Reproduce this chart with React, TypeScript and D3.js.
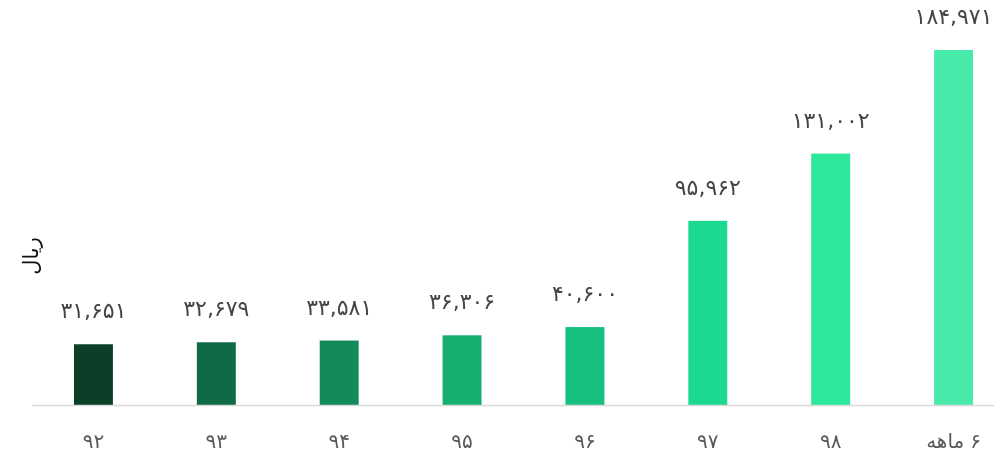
import { useEffect, useRef } from 'react';
import * as d3 from 'd3';

const categories = ['۹۲', '۹۳', '۹۴', '۹۵', '۹۶', '۹۷', '۹۸', '۶ ماهه'];
const values = [31651, 32679, 33581, 36306, 40600, 95962, 131002, 184971];
const colors = ['#0b3f28', '#0e6b45', '#128a5a', '#15b06e', '#17c07e', '#1bd98e', '#2be89b', '#48eaa9'];
const yLabel = 'ریال';

const toFa = (n: number) =>
  d3.format(',')(n).replace(/\d/g, (d) => '۰۱۲۳۴۵۶۷۸۹'[+d]);

export default function App() {
  const ref = useRef<SVGSVGElement>(null);

  useEffect(() => {
    if (!ref.current) return;
    const width = 994;
    const svg = d3.select(ref.current);
    svg.selectAll('*').remove();

    const left = 32;
    const baseline = 405;
    const x = d3.scaleBand().domain(categories).range([32, 1015]).paddingInner(0.683).paddingOuter(0.3415);
    const y = d3.scaleLinear().domain([0, 184971]).range([baseline, 50]);
    const font = '"DejaVu Sans", sans-serif';

    const data = categories.map((c, i) => ({ c, v: values[i], col: colors[i] }));
    const cx = (c: string) => (x(c) ?? 0) + x.bandwidth() / 2;

    svg.selectAll('rect.bar')
      .data(data)
      .join('rect')
      .attr('class', 'bar')
      .attr('x', (d) => x(d.c) ?? 0)
      .attr('width', x.bandwidth())
      .attr('y', (d) => y(d.v))
      .attr('height', (d) => baseline - y(d.v))
      .attr('fill', (d) => d.col);

    svg.append('line')
      .attr('x1', left).attr('x2', width)
      .attr('y1', baseline + 0.5).attr('y2', baseline + 0.5)
      .attr('stroke', '#d9d9d9').attr('stroke-width', 1.5);

    svg.selectAll('text.val')
      .data(data)
      .join('text')
      .attr('class', 'val')
      .attr('x', (d) => cx(d.c))
      .attr('y', (d) => y(d.v) - 26)
      .attr('text-anchor', 'middle')
      .attr('font-family', font)
      .attr('font-size', 22)
      .attr('fill', '#454545')
      .text((d) => toFa(d.v));

    // tick labels: words placed right-to-left one by one so the order is fixed
    data.forEach((d) => {
      const g = svg.append('g');
      const words = d.c.split(' ').reverse();
      const gap = 6;
      let pos = 0;
      words.forEach((w) => {
        const t = g.append('text')
          .attr('y', 448)
          .attr('font-family', font)
          .attr('font-size', 20)
          .attr('fill', '#595959')
          .text(w);
        const len = (t.node() as SVGTextElement).getComputedTextLength();
        t.attr('x', pos);
        pos += len + gap;
      });
      const total = pos - gap;
      g.attr('transform', `translate(${cx(d.c) - total / 2},0)`);
    });

    svg.append('text')
      .attr('transform', 'translate(38,256) rotate(-90)')
      .attr('text-anchor', 'middle')
      .attr('font-family', font)
      .attr('font-size', 21)
      .attr('fill', '#111')
      .text(yLabel);
  }, []);

  return (
    <div style={{ position: 'fixed', left: 0, top: 0 }}>
      <svg ref={ref} width={994} height={452} />
    </div>
  );
}
